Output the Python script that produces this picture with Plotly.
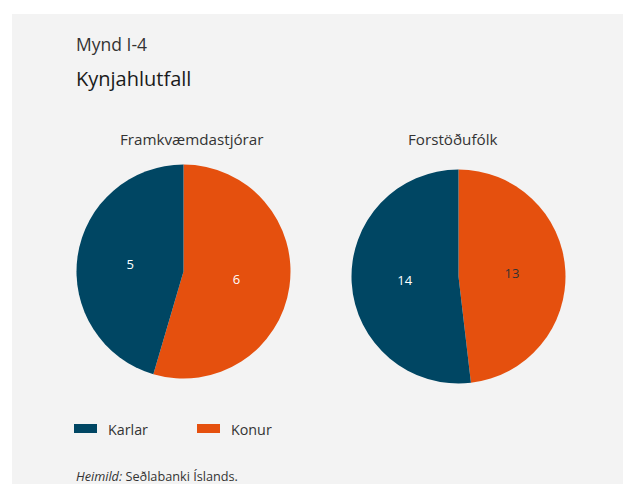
import plotly.graph_objects as go

W, H = 623, 484

categories = ["Karlar", "Konur"]
pie_titles = ["Framkvæmdastjórar", "Forstöðufólk"]
framkvaemdastjorar = [5, 6]
forstodufolk = [14, 13]
colors = ["#004663", "#e5500e"]

FONT = "Open Sans"
TXT = "#333333"

def px_x(x):
    return x / W

def px_y(y):
    return 1 - y / H

fig = go.Figure()

c1, r = (183.5, 271.5), 107
c2 = (458.5, 276.5)

# Konur drawn clockwise from 12 o'clock (right side), Karlar fills the left side
def pie(values, center, text_colors):
    return go.Pie(
        labels=categories[::-1], values=values[::-1], sort=False,
        direction="clockwise", rotation=0,
        marker=dict(colors=colors[::-1], line=dict(width=0)),
        textinfo="value", textposition="inside", insidetextorientation="horizontal",
        textfont=dict(family=FONT, size=13, color=text_colors[::-1]),
        domain=dict(x=[px_x(center[0] - r), px_x(center[0] + r)],
                    y=[px_y(center[1] + r), px_y(center[1] - r)]),
        showlegend=False, hoverinfo="label+value",
    )

fig.add_trace(pie(framkvaemdastjorar, c1, ["#ffffff", "#ffffff"]))
fig.add_trace(pie(forstodufolk, c2, ["#ffffff", "#333333"]))

shapes = [dict(type="rect", xref="paper", yref="paper", x0=px_x(12), x1=1, y0=0, y1=px_y(14),
               fillcolor="#f3f3f3", line=dict(width=0), layer="below")]
annotations = [
    dict(text="Mynd I-4", x=px_x(74), y=px_y(44), xanchor="left", yanchor="middle",
         font=dict(family=FONT, size=17.5, color=TXT)),
    dict(text="Kynjahlutfall", x=px_x(74), y=px_y(78), xanchor="left", yanchor="middle",
         font=dict(family=FONT, size=20, color="#1a1a1a")),
    dict(text=pie_titles[0], x=px_x(191), y=px_y(139), xanchor="center", yanchor="middle",
         font=dict(family=FONT, size=15.2, color=TXT)),
    dict(text=pie_titles[1], x=px_x(452), y=px_y(139), xanchor="center", yanchor="middle",
         font=dict(family=FONT, size=15.2, color=TXT)),
    dict(text="<i>Heimild:</i> Seðlabanki Íslands.", x=px_x(74), y=px_y(476), xanchor="left",
         yanchor="middle", font=dict(family=FONT, size=12.7, color=TXT)),
]

leg_x = [74, 197]
for i, name in enumerate(categories):
    x0 = leg_x[i]
    shapes.append(dict(type="rect", xref="paper", yref="paper",
                       x0=px_x(x0), x1=px_x(x0 + 23), y0=px_y(433), y1=px_y(424),
                       fillcolor=colors[i], line=dict(width=0)))
    annotations.append(dict(text=name, x=px_x(x0 + 32), y=px_y(429), xanchor="left",
                            yanchor="middle", font=dict(family=FONT, size=14.3, color=TXT)))

for a in annotations:
    a.update(xref="paper", yref="paper", showarrow=False)

fig.update_layout(
    width=W, height=H, margin=dict(l=0, r=0, t=0, b=0),
    paper_bgcolor="#ffffff", plot_bgcolor="#ffffff",
    shapes=shapes, annotations=annotations, showlegend=False,
)

fig.write_html("out.html", config={"displayModeBar": False},
               post_script="document.body.style.margin='0';document.body.style.overflow='hidden';")
